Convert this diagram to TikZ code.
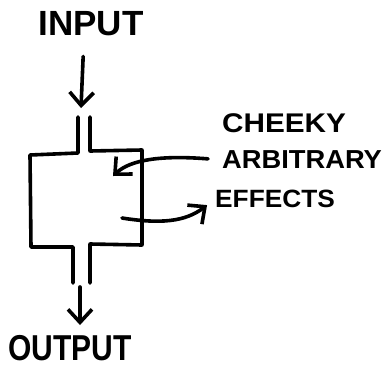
\documentclass[tikz,border=0pt]{standalone}
\usepackage{fontspec}
\setmainfont{Liberation Sans}
\usetikzlibrary{arrows.meta}

\tikzset{
    sketch/.style={line width=3.6pt, line cap=round, line join=round},
    handarrow/.style={sketch, -{Straight Barb[length=13pt, width=24pt, line width=3.6pt]}},
    scrawl/.style={inner sep=0pt, font=\bfseries}
}

\begin{document}
\begin{tikzpicture}[x=1pt, y=-1pt]

    \useasboundingbox (0,0) rectangle (387,367);

    % ==========================================
    % Labels
    % ==========================================
    \node[scrawl, font=\fontsize{35}{35}\selectfont\bfseries] (input) at (91,24) {INPUT};
    \node[scrawl, yscale=1.2, font=\fontsize{30}{30}\selectfont\bfseries] (output) at (70,348) {OUTPUT};
    \node[scrawl, anchor=west, xscale=1.1, font=\fontsize{27}{27}\selectfont\bfseries] (cheeky) at (222,123) {CHEEKY};
    \node[scrawl, anchor=west, xscale=1.05, font=\fontsize{26}{26}\selectfont\bfseries] (arbitrary) at (222,160) {ARBITRARY};
    \node[scrawl, anchor=west, xscale=1.05, font=\fontsize{25}{25}\selectfont\bfseries] (effects) at (215,199) {EFFECTS};

    % ==========================================
    % Box with pipes
    % ==========================================
    \draw[sketch] (78,117) -- (78,153) -- (30,155) -- (31,247) -- (73,247) -- (73,283);
    \draw[sketch] (90,117) -- (90,151) -- (142,150) -- (142,245) -- (90,244) -- (90,283);

    \coordinate (pipein) at (81,108);
    \coordinate (pipeout) at (80,287);
    \coordinate (sink) at (113,176);
    \coordinate (source) at (122,218);

    % ==========================================
    % Arrows
    % ==========================================
    \draw[handarrow, shorten <=20pt] ([xshift=3pt]input.south -| pipein) -- (pipein);
    \draw[handarrow, shorten >=10pt] (pipeout) -- (output.north -| pipeout);
    \draw[handarrow, shorten <=14pt] (arbitrary.west) .. controls (160,155) and (130,160) .. (sink);
    \draw[handarrow, shorten >=10pt] (source) .. controls (160,224) and (185,222) .. (effects.west);

\end{tikzpicture}
\end{document}
